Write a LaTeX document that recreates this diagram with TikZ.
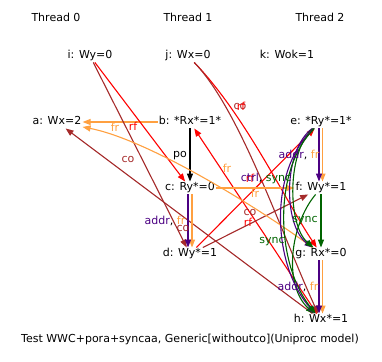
\documentclass[tikz,border=0pt]{standalone}
\usepackage{fontspec}
\setmainfont{DejaVu Sans}
\usetikzlibrary{arrows.meta}
\definecolor{rfred}{HTML}{FF0000}
\definecolor{cobrown}{HTML}{A52A2A}
\definecolor{frorange}{HTML}{FFA040}
\definecolor{addrpurple}{HTML}{4B0082}
\definecolor{syncgreen}{HTML}{006400}
\newcommand{\evfont}{\fontsize{11}{13}\selectfont}
\tikzset{
  ev/.style   = {inner sep=1pt, text height=8pt, text depth=2.5pt, font=\evfont},
  hdr/.style  = {inner sep=1pt, font=\evfont},
  rel/.style  = {draw=#1, line width=1.1pt, -{Triangle[length=8pt, width=6pt]}},
  lbl/.style  = {inner sep=0pt, font=\evfont, text=#1},
}

\begin{document}
\begin{tikzpicture}[x=1pt, y=-1pt]
  \useasboundingbox (0,0) rectangle (382,361);

  %% ---------------- threads and events ------------------------------------------
  \foreach \t/\x in {0/56,1/188,2/320} { \node[hdr] (th\t) at (\x,17) {Thread \t}; }
  \node[ev] (i) at (90,56)   {i: Wy=0};
  \node[ev] (j) at (188,56)  {j: Wx=0};
  \node[ev] (k) at (287,56)  {k: Wok=1};
  \node[ev] (a) at (57,122)  {a: Wx=2};
  \node[ev] (b) at (190,122) {b: *Rx*=1*};
  \node[ev] (e) at (321,122) {e: *Ry*=1*};
  \node[ev] (c) at (190,188) {c: Ry*=0};
  \node[ev] (f) at (321,188) {f: Wy*=1};
  \node[ev] (d) at (190,254) {d: Wy*=1};
  \node[ev] (g) at (321,254) {g: Rx*=0};
  \node[ev] (h) at (321,320) {h: Wx*=1};
  \node[hdr] (caption) at (190,339) {Test WWC+pora+syncaa, Generic[withoutco](Uniproc model)};

  %% ---------------- relations ---------------------------------------------------
  \draw[rel=black] (b) -- (c);
  \draw[rel=frorange] (b) -- (a);
  \draw[rel=rfred] (i) -- (c);
  \draw[rel=cobrown] (i) -- (d);
  \draw[rel=rfred] (j) .. controls (245,115) and (285,200) .. (g);
  \draw[rel=cobrown] (j) .. controls (240,110) and (280,230) .. (h);
  \draw[rel=rfred] (d) -- (e);
  \draw[rel=rfred] (h) -- (b);
  \draw[rel=cobrown] (d) -- (f);
  \draw[rel=cobrown] (h) -- (a);
  \draw[rel=frorange] (c) -- (f);
  \draw[rel=frorange] (g) .. controls (265,212) and (150,140) .. (a);
  % addr + fr pairs, drawn side by side
  \draw[rel=frorange] ([xshift=2pt]c.south) -- ([xshift=2pt]d.north);
  \draw[rel=addrpurple] ([xshift=-2pt]c.south) -- ([xshift=-2pt]d.north);
  \draw[rel=frorange] ([xshift=1.5pt]e.south) -- ([xshift=1.5pt]f.north);
  \draw[rel=addrpurple] ([xshift=-2pt]e.south) -- ([xshift=-2pt]f.north);
  \draw[rel=frorange] ([xshift=1.5pt]g.south) -- ([xshift=1.5pt]h.north);
  \draw[rel=addrpurple] ([xshift=-2pt]g.south) -- ([xshift=-2pt]h.north);
  % fences inside thread 2
  \draw[rel=syncgreen] (f) -- (g);
  \draw[rel=syncgreen] (f) .. controls (290,225) and (283,285) .. (h);
  \draw[rel=addrpurple] (e) .. controls (283,150) and (283,225) .. (g);
  \draw[rel=syncgreen] (e) .. controls (287,150) and (287,225) .. (g);
  \draw[rel=addrpurple] (e) .. controls (268,170) and (272,265) .. (h);
  \draw[rel=syncgreen] (e) .. controls (272,170) and (276,265) .. (h);

  %% ---------------- labels ------------------------------------------------------
  \node[lbl=black] (l-bc) at (180,156) {po};
  \node[lbl=frorange] (l-ba) at (115,127) {fr};
  \node[lbl=rfred] (l-ic) at (133,126) {rf};
  \node[lbl=cobrown] (l-id) at (128,159) {co};
  \node[lbl=cobrown] (l-jh) at (240,106) {co};
  \node[lbl=rfred] (l-jg) at (241,106) {rf};
  \node[lbl=rfred] (l-de) at (250,178) {rf};
  \node[lbl=rfred] (l-hb) at (248,222) {rf};
  \node[lbl=cobrown] (l-df) at (250,212) {co};
  \node[lbl=cobrown] (l-ha) at (183,228) {co};
  \node[lbl=frorange] (l-cf) at (255,193) {fr};
  \node[lbl=frorange] (l-ga) at (227,168) {fr};
  \node[lbl=black] (l-cd) at (165,221) {\textcolor{addrpurple}{addr}, \textcolor{frorange}{fr}};
  \node[lbl=black] (l-ef) at (299,155) {\textcolor{addrpurple}{addr}, \textcolor{frorange}{fr}};
  \node[lbl=black] (l-gh) at (298,287) {\textcolor{addrpurple}{addr}, \textcolor{frorange}{fr}};
  \node[lbl=black] (l-eg) at (266,178) {\textcolor{addrpurple}{ctrl}, \textcolor{syncgreen}{sync}};
  \node[lbl=syncgreen] (l-fg) at (305,221) {sync};
  \node[lbl=syncgreen] (l-fh) at (272,242) {sync};
\end{tikzpicture}
\end{document}
